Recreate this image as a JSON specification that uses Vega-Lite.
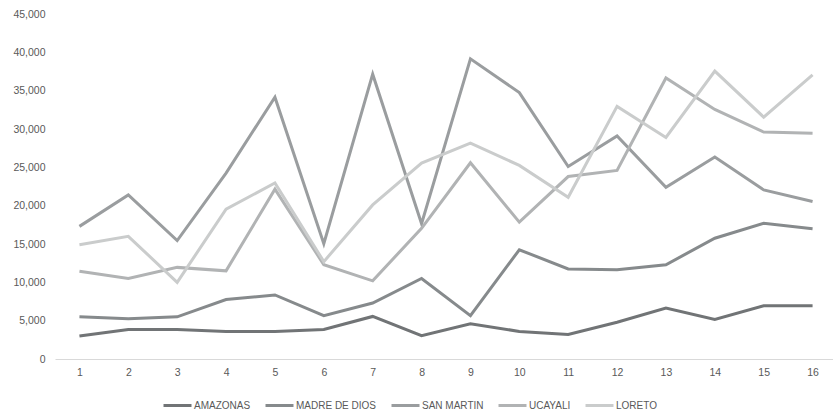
{
  "$schema": "https://vega.github.io/schema/vega-lite/v6.json",
  "autosize": {"type": "none"},
  "padding": {"left": 55, "top": 14, "right": 0, "bottom": 61},
  "width": 782,
  "height": 345,
  "background": "#ffffff",
  "config": {
    "view": {"stroke": null},
    "font": "Liberation Sans",
    "axis": {"labelColor": "#595959", "labelFontSize": 10.5, "grid": false, "ticks": false, "title": null},
    "legend": {"labelColor": "#595959", "labelFontSize": 10}
  },
  "data": {
    "values": [
      {"n": 1, "region": "AMAZONAS", "value": 3000}, {"n": 2, "region": "AMAZONAS", "value": 3850},
      {"n": 3, "region": "AMAZONAS", "value": 3850}, {"n": 4, "region": "AMAZONAS", "value": 3600},
      {"n": 5, "region": "AMAZONAS", "value": 3600}, {"n": 6, "region": "AMAZONAS", "value": 3850},
      {"n": 7, "region": "AMAZONAS", "value": 5550}, {"n": 8, "region": "AMAZONAS", "value": 3050},
      {"n": 9, "region": "AMAZONAS", "value": 4600}, {"n": 10, "region": "AMAZONAS", "value": 3600},
      {"n": 11, "region": "AMAZONAS", "value": 3200}, {"n": 12, "region": "AMAZONAS", "value": 4800},
      {"n": 13, "region": "AMAZONAS", "value": 6650}, {"n": 14, "region": "AMAZONAS", "value": 5150},
      {"n": 15, "region": "AMAZONAS", "value": 6950}, {"n": 16, "region": "AMAZONAS", "value": 6950},

      {"n": 1, "region": "MADRE DE DIOS", "value": 5500}, {"n": 2, "region": "MADRE DE DIOS", "value": 5250},
      {"n": 3, "region": "MADRE DE DIOS", "value": 5500}, {"n": 4, "region": "MADRE DE DIOS", "value": 7750},
      {"n": 5, "region": "MADRE DE DIOS", "value": 8350}, {"n": 6, "region": "MADRE DE DIOS", "value": 5650},
      {"n": 7, "region": "MADRE DE DIOS", "value": 7300}, {"n": 8, "region": "MADRE DE DIOS", "value": 10500},
      {"n": 9, "region": "MADRE DE DIOS", "value": 5650}, {"n": 10, "region": "MADRE DE DIOS", "value": 14250},
      {"n": 11, "region": "MADRE DE DIOS", "value": 11750}, {"n": 12, "region": "MADRE DE DIOS", "value": 11650},
      {"n": 13, "region": "MADRE DE DIOS", "value": 12300}, {"n": 14, "region": "MADRE DE DIOS", "value": 15750},
      {"n": 15, "region": "MADRE DE DIOS", "value": 17700}, {"n": 16, "region": "MADRE DE DIOS", "value": 17000},

      {"n": 1, "region": "SAN MARTIN", "value": 17300}, {"n": 2, "region": "SAN MARTIN", "value": 21400},
      {"n": 3, "region": "SAN MARTIN", "value": 15450}, {"n": 4, "region": "SAN MARTIN", "value": 24250},
      {"n": 5, "region": "SAN MARTIN", "value": 34150}, {"n": 6, "region": "SAN MARTIN", "value": 15050},
      {"n": 7, "region": "SAN MARTIN", "value": 37150}, {"n": 8, "region": "SAN MARTIN", "value": 17650},
      {"n": 9, "region": "SAN MARTIN", "value": 39150}, {"n": 10, "region": "SAN MARTIN", "value": 34750},
      {"n": 11, "region": "SAN MARTIN", "value": 25100}, {"n": 12, "region": "SAN MARTIN", "value": 29100},
      {"n": 13, "region": "SAN MARTIN", "value": 22400}, {"n": 14, "region": "SAN MARTIN", "value": 26350},
      {"n": 15, "region": "SAN MARTIN", "value": 22050}, {"n": 16, "region": "SAN MARTIN", "value": 20550},

      {"n": 1, "region": "UCAYALI", "value": 11450}, {"n": 2, "region": "UCAYALI", "value": 10500},
      {"n": 3, "region": "UCAYALI", "value": 11950}, {"n": 4, "region": "UCAYALI", "value": 11500},
      {"n": 5, "region": "UCAYALI", "value": 22150}, {"n": 6, "region": "UCAYALI", "value": 12300},
      {"n": 7, "region": "UCAYALI", "value": 10200}, {"n": 8, "region": "UCAYALI", "value": 17050},
      {"n": 9, "region": "UCAYALI", "value": 25600}, {"n": 10, "region": "UCAYALI", "value": 17850},
      {"n": 11, "region": "UCAYALI", "value": 23800}, {"n": 12, "region": "UCAYALI", "value": 24600},
      {"n": 13, "region": "UCAYALI", "value": 36650}, {"n": 14, "region": "UCAYALI", "value": 32550},
      {"n": 15, "region": "UCAYALI", "value": 29600}, {"n": 16, "region": "UCAYALI", "value": 29450},

      {"n": 1, "region": "LORETO", "value": 14900}, {"n": 2, "region": "LORETO", "value": 16000},
      {"n": 3, "region": "LORETO", "value": 10000}, {"n": 4, "region": "LORETO", "value": 19550},
      {"n": 5, "region": "LORETO", "value": 22950}, {"n": 6, "region": "LORETO", "value": 12700},
      {"n": 7, "region": "LORETO", "value": 20100}, {"n": 8, "region": "LORETO", "value": 25550},
      {"n": 9, "region": "LORETO", "value": 28150}, {"n": 10, "region": "LORETO", "value": 25250},
      {"n": 11, "region": "LORETO", "value": 21100}, {"n": 12, "region": "LORETO", "value": 32950},
      {"n": 13, "region": "LORETO", "value": 28900}, {"n": 14, "region": "LORETO", "value": 37550},
      {"n": 15, "region": "LORETO", "value": 31550}, {"n": 16, "region": "LORETO", "value": 37050}
    ]
  },
  "mark": {"type": "line", "strokeWidth": 3, "strokeJoin": "miter", "strokeCap": "butt"},
  "encoding": {
    "x": {
      "field": "n",
      "type": "ordinal",
      "scale": {"type": "point", "padding": 0.5},
      "axis": {"labelAngle": 0, "domainColor": "#d9d9d9", "domainWidth": 1, "labelPadding": 8}
    },
    "y": {
      "field": "value",
      "type": "quantitative",
      "scale": {"domain": [0, 45000], "nice": false},
      "axis": {"values": [0, 5000, 10000, 15000, 20000, 25000, 30000, 35000, 40000, 45000], "format": ",.0f", "domain": false, "labelPadding": 10}
    },
    "color": {
      "field": "region",
      "type": "nominal",
      "scale": {
        "domain": ["AMAZONAS", "MADRE DE DIOS", "SAN MARTIN", "UCAYALI", "LORETO"],
        "range": ["#717476", "#868a8c", "#9a9d9f", "#b1b3b4", "#cacccc"]
      },
      "legend": {
        "title": null,
        "orient": "none",
        "direction": "horizontal",
        "legendX": 107,
        "legendY": 376,
        "gridAlign": "none",
        "symbolType": "stroke",
        "symbolSize": 784,
        "symbolStrokeWidth": 3,
        "labelOffset": 1,
        "columnPadding": 8
      }
    }
  }
}
